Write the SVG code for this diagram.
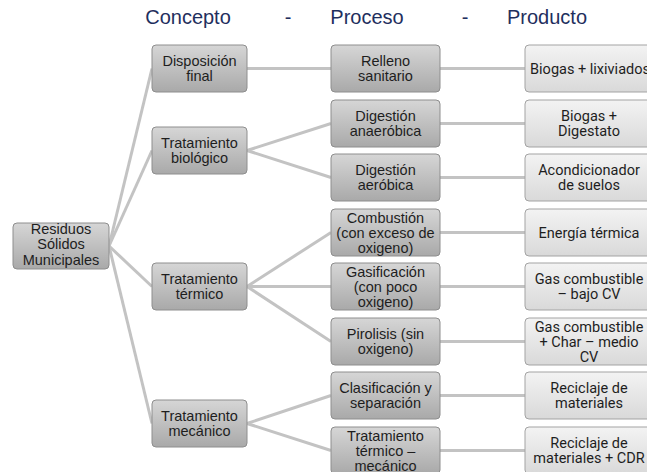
<svg xmlns="http://www.w3.org/2000/svg" width="647" height="472" viewBox="0 0 647 472">
  <defs>
    <linearGradient id="gDark" x1="0" y1="0" x2="0" y2="1">
      <stop offset="0" stop-color="#d6d6d6"/>
      <stop offset="1" stop-color="#a9a9a9"/>
    </linearGradient>
    <linearGradient id="gLight" x1="0" y1="0" x2="0" y2="1">
      <stop offset="0" stop-color="#f3f3f3"/>
      <stop offset="1" stop-color="#d9d9d9"/>
    </linearGradient>
  </defs>
  <style>
    .hdr { font-family: "Liberation Sans", Arial, sans-serif; font-size: 20px; fill: #1f2f5e; text-anchor: middle; }
    .box { fill: url(#gDark); stroke: #8e8e8e; stroke-width: 1; }
    .box-l { fill: url(#gLight); stroke: #a3a3a3; stroke-width: 1; }
    .lbl { font-family: "Liberation Sans", Arial, sans-serif; font-size: 14.5px; fill: #1e1e1e; text-anchor: middle; }
    .lbl-r { font-family: Roboto, "Liberation Sans", sans-serif; font-size: 14.5px; fill: #1e1e1e; text-anchor: middle; }
    .link { stroke: #c3c3c3; stroke-width: 3; fill: none; }
  </style>
  <rect width="647" height="472" fill="#ffffff"/>

  <!-- column headings -->
  <g id="headings">
    <text class="hdr" x="188" y="24">Concepto</text>
    <text class="hdr" x="288" y="24">-</text>
    <text class="hdr" x="367" y="24">Proceso</text>
    <text class="hdr" x="465" y="24">-</text>
    <text class="hdr" x="547" y="24">Producto</text>
  </g>

  <!-- connectors -->
  <g id="connectors">
    <!-- root to concepts -->
    <line class="link" x1="109" y1="246" x2="152" y2="68.5"/>
    <line class="link" x1="109" y1="246" x2="152" y2="150.5"/>
    <line class="link" x1="109" y1="246" x2="152" y2="286.5"/>
    <line class="link" x1="109" y1="246" x2="152" y2="423.5"/>
    <!-- concepts to processes -->
    <line class="link" x1="247" y1="68.5" x2="331" y2="68.5"/>
    <line class="link" x1="247" y1="150.5" x2="331" y2="123.5"/>
    <line class="link" x1="247" y1="150.5" x2="331" y2="177.5"/>
    <line class="link" x1="247" y1="286.5" x2="331" y2="232.5"/>
    <line class="link" x1="247" y1="286.5" x2="331" y2="286.5"/>
    <line class="link" x1="247" y1="286.5" x2="331" y2="341.5"/>
    <line class="link" x1="247" y1="423.5" x2="331" y2="395.5"/>
    <line class="link" x1="247" y1="423.5" x2="331" y2="450.5"/>
    <!-- processes to products -->
    <line class="link" x1="440" y1="68.5" x2="525" y2="68.5"/>
    <line class="link" x1="440" y1="123.5" x2="525" y2="123.5"/>
    <line class="link" x1="440" y1="177.5" x2="525" y2="177.5"/>
    <line class="link" x1="440" y1="232.5" x2="525" y2="232.5"/>
    <line class="link" x1="440" y1="286.5" x2="525" y2="286.5"/>
    <line class="link" x1="440" y1="341.5" x2="525" y2="341.5"/>
    <line class="link" x1="440" y1="395.5" x2="525" y2="395.5"/>
    <line class="link" x1="440" y1="450.5" x2="525" y2="450.5"/>
  </g>

  <!-- root -->
  <g id="residuos">
    <rect class="box" x="13" y="223" width="96" height="46" rx="4"/>
    <text class="lbl" x="61" y="234">Residuos</text>
    <text class="lbl" x="61" y="249">Sólidos</text>
    <text class="lbl" x="61" y="264.5">Municipales</text>
  </g>

  <!-- concepts -->
  <g id="disposicion-final">
    <rect class="box" x="152" y="45" width="95" height="47" rx="4"/>
    <text class="lbl" x="199.5" y="66">Disposición</text>
    <text class="lbl" x="199.5" y="81">final</text>
  </g>
  <g id="tratamiento-biologico">
    <rect class="box" x="152" y="127" width="95" height="47" rx="4"/>
    <text class="lbl" x="199.5" y="148">Tratamiento</text>
    <text class="lbl" x="199.5" y="163">biológico</text>
  </g>
  <g id="tratamiento-termico">
    <rect class="box" x="152" y="263" width="95" height="47" rx="4"/>
    <text class="lbl" x="199.5" y="284">Tratamiento</text>
    <text class="lbl" x="199.5" y="299">térmico</text>
  </g>
  <g id="tratamiento-mecanico">
    <rect class="box" x="152" y="400" width="95" height="47" rx="4"/>
    <text class="lbl" x="199.5" y="421">Tratamiento</text>
    <text class="lbl" x="199.5" y="436">mecánico</text>
  </g>

  <!-- processes -->
  <g id="relleno-sanitario">
    <rect class="box" x="331" y="45" width="109" height="47" rx="4"/>
    <text class="lbl" x="385.5" y="66">Relleno</text>
    <text class="lbl" x="385.5" y="81">sanitario</text>
  </g>
  <g id="digestion-anaerobica">
    <rect class="box" x="331" y="100" width="109" height="47" rx="4"/>
    <text class="lbl" x="385.5" y="121">Digestión</text>
    <text class="lbl" x="385.5" y="136">anaeróbica</text>
  </g>
  <g id="digestion-aerobica">
    <rect class="box" x="331" y="154" width="109" height="47" rx="4"/>
    <text class="lbl" x="385.5" y="175">Digestión</text>
    <text class="lbl" x="385.5" y="190">aeróbica</text>
  </g>
  <g id="combustion">
    <rect class="box" x="331" y="209" width="109" height="47" rx="4"/>
    <text class="lbl" x="385.5" y="222.5">Combustión</text>
    <text class="lbl" x="385.5" y="237.5">(con exceso de</text>
    <text class="lbl" x="385.5" y="252.5">oxigeno)</text>
  </g>
  <g id="gasificacion">
    <rect class="box" x="331" y="263" width="109" height="47" rx="4"/>
    <text class="lbl" x="385.5" y="276.5">Gasificación</text>
    <text class="lbl" x="385.5" y="291.5">(con poco</text>
    <text class="lbl" x="385.5" y="306.5">oxigeno)</text>
  </g>
  <g id="pirolisis">
    <rect class="box" x="331" y="318" width="109" height="47" rx="4"/>
    <text class="lbl" x="385.5" y="339">Pirolisis (sin</text>
    <text class="lbl" x="385.5" y="354">oxigeno)</text>
  </g>
  <g id="clasificacion">
    <rect class="box" x="331" y="372" width="109" height="47" rx="4"/>
    <text class="lbl" x="385.5" y="393">Clasificación y</text>
    <text class="lbl" x="385.5" y="408">separación</text>
  </g>
  <g id="tratamiento-termico-mecanico">
    <rect class="box" x="331" y="427" width="109" height="47" rx="4"/>
    <text class="lbl" x="385.5" y="440.5">Tratamiento</text>
    <text class="lbl" x="385.5" y="455.5">térmico –</text>
    <text class="lbl" x="385.5" y="470.5">mecánico</text>
  </g>

  <!-- products -->
  <g id="biogas-lixiviados">
    <rect class="box-l" x="525" y="45" width="130" height="47" rx="4"/>
    <text class="lbl-r" x="590" y="73.5">Biogas + lixiviados</text>
  </g>
  <g id="biogas-digestato">
    <rect class="box-l" x="525" y="100" width="130" height="47" rx="4"/>
    <text class="lbl-r" x="589" y="121">Biogas +</text>
    <text class="lbl-r" x="589" y="136">Digestato</text>
  </g>
  <g id="acondicionador">
    <rect class="box-l" x="525" y="154" width="130" height="47" rx="4"/>
    <text class="lbl-r" x="589" y="175">Acondicionador</text>
    <text class="lbl-r" x="589" y="190">de suelos</text>
  </g>
  <g id="energia-termica">
    <rect class="box-l" x="525" y="209" width="130" height="47" rx="4"/>
    <text class="lbl-r" x="589" y="237.5">Energía térmica</text>
  </g>
  <g id="gas-bajo-cv">
    <rect class="box-l" x="525" y="263" width="130" height="47" rx="4"/>
    <text class="lbl-r" x="589" y="284">Gas combustible</text>
    <text class="lbl-r" x="589" y="299">– bajo CV</text>
  </g>
  <g id="gas-char-medio-cv">
    <rect class="box-l" x="525" y="318" width="130" height="47" rx="4"/>
    <text class="lbl-r" x="589" y="331.5">Gas combustible</text>
    <text class="lbl-r" x="589" y="346.5">+ Char – medio</text>
    <text class="lbl-r" x="589" y="361.5">CV</text>
  </g>
  <g id="reciclaje-materiales">
    <rect class="box-l" x="525" y="372" width="130" height="47" rx="4"/>
    <text class="lbl-r" x="589" y="393">Reciclaje de</text>
    <text class="lbl-r" x="589" y="408">materiales</text>
  </g>
  <g id="reciclaje-cdr">
    <rect class="box-l" x="525" y="427" width="130" height="47" rx="4"/>
    <text class="lbl-r" x="589" y="448">Reciclaje de</text>
    <text class="lbl-r" x="589" y="463">materiales + CDR</text>
  </g>
</svg>
